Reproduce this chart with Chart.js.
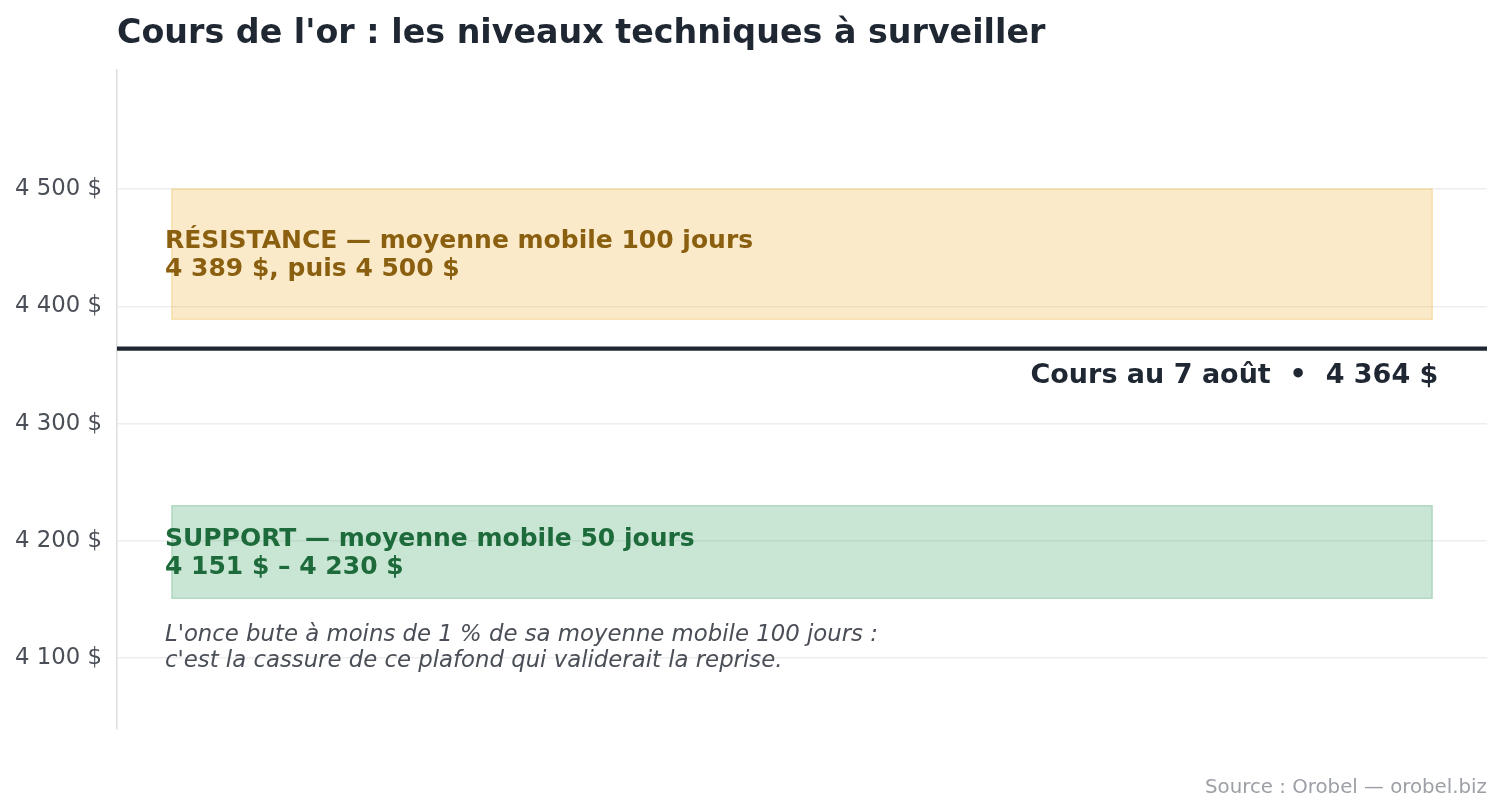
<!DOCTYPE html>
<html>
<head>
<meta charset="utf-8">
<script src="https://cdn.jsdelivr.net/npm/chart.js@4"></script>
<style>
html,body{margin:0;padding:0;background:#fff;}
#wrap{width:1501px;height:812px;position:relative;}
</style>
</head>
<body>
<div id="wrap"><canvas id="c" width="1501" height="812"></canvas></div>
<script>
const chartTitle = "Cours de l'or : les niveaux techniques à surveiller";
const sourceText = "Source : Orobel — orobel.biz";
const yTicks = [4100, 4200, 4300, 4400, 4500];
const yRange = [4039.6, 4601.5];
const zoneNames = ["RÉSISTANCE — moyenne mobile 100 jours", "SUPPORT — moyenne mobile 50 jours"];
const zoneSubs = ["4 389 $, puis 4 500 $", "4 151 $ – 4 230 $"];
const zoneLow = [4389, 4151];
const zoneHigh = [4500, 4230];
const zoneFill = ["rgba(240,180,60,0.28)", "rgba(60,160,100,0.28)"];
const zoneBorder = ["rgba(240,190,80,0.45)", "rgba(60,160,100,0.35)"];
const zoneText = ["#8a5f0f", "#1d6a3a"];
const currentPrice = 4364;
const currentLabel = "Cours au 7 août  •  4 364 $";
const noteLines = ["L'once bute à moins de 1 % de sa moyenne mobile 100 jours :", "c'est la cassure de ce plafond qui validerait la reprise."];
const noteValue = 4110;

function fmt(v){ return String(v).replace(/\B(?=(\d{3})+(?!\d))/g, " ") + " $"; }

const overlay = {
  id: 'overlay',
  beforeDatasetsDraw(chart){
    const ctx = chart.ctx, x = chart.scales.x, y = chart.scales.y;
    ctx.save();
    for (let i = 0; i < zoneLow.length; i++){
      const x0 = x.getPixelForValue(0.04), x1 = x.getPixelForValue(0.96);
      const y0 = y.getPixelForValue(zoneHigh[i]), y1 = y.getPixelForValue(zoneLow[i]);
      ctx.fillStyle = zoneFill[i];
      ctx.fillRect(x0, y0, x1 - x0, y1 - y0);
      ctx.strokeStyle = zoneBorder[i];
      ctx.lineWidth = 1.2;
      ctx.strokeRect(x0, y0, x1 - x0, y1 - y0);
    }
    ctx.restore();
  },
  afterDatasetsDraw(chart){
    const ctx = chart.ctx, x = chart.scales.x, y = chart.scales.y, ca = chart.chartArea;
    ctx.save();
    for (let i = 0; i < zoneLow.length; i++){
      const yc = (y.getPixelForValue(zoneHigh[i]) + y.getPixelForValue(zoneLow[i])) / 2 + 1.5;
      ctx.fillStyle = zoneText[i];
      ctx.font = "bold 25px 'DejaVu Sans'";
      ctx.textAlign = 'left';
      ctx.textBaseline = 'middle';
      const lx = x.getPixelForValue(0.035);
      ctx.fillText(zoneNames[i], lx, yc - 14);
      ctx.fillText(zoneSubs[i], lx, yc + 14);
    }
    const py = y.getPixelForValue(currentPrice);
    ctx.fillStyle = '#1f2733';
    ctx.font = "bold 27px 'DejaVu Sans'";
    ctx.textAlign = 'right';
    ctx.textBaseline = 'middle';
    ctx.fillText(currentLabel, x.getPixelForValue(0.9645), py + 27);
    const ny = y.getPixelForValue(noteValue) + 2;
    ctx.fillStyle = '#4a4e57';
    ctx.font = "italic 22.8px 'DejaVu Sans'";
    ctx.textAlign = 'left';
    ctx.fillText(noteLines[0], x.getPixelForValue(0.035), ny - 13);
    ctx.fillText(noteLines[1], x.getPixelForValue(0.035), ny + 13);
    ctx.fillStyle = '#1f2733';
    ctx.font = "bold 33.3px 'DejaVu Sans'";
    ctx.textAlign = 'left';
    ctx.fillText(chartTitle, ca.left, 34);
    ctx.fillStyle = '#9ca0a6';
    ctx.font = "19.8px 'DejaVu Sans'";
    ctx.textAlign = 'right';
    ctx.fillText(sourceText, ca.right, 788);
    ctx.restore();
  }
};

new Chart(document.getElementById('c'), {
  type: 'line',
  data: {
    datasets: [{
      label: 'Cours',
      data: [{x: 0, y: currentPrice}, {x: 1, y: currentPrice}],
      borderColor: '#1f2733',
      borderWidth: 4.2,
      pointRadius: 0,
      fill: false
    }]
  },
  options: {
    responsive: false,
    animation: false,
    devicePixelRatio: 1,
    layout: { padding: { top: 70, bottom: 83, right: 14, left: 0 } },
    plugins: { legend: { display: false }, tooltip: { enabled: false }, title: { display: false } },
    scales: {
      x: { type: 'linear', min: 0, max: 1, display: false },
      y: {
        type: 'linear', min: yRange[0], max: yRange[1],
        afterBuildTicks(s){ s.ticks = yTicks.map(v => ({value: v})); },
        afterFit(s){ s.width = 117; },
        grid: { color: '#eeeeee', lineWidth: 1.5, drawTicks: false },
        border: { display: true, color: '#dddddd', width: 1.5 },
        ticks: { padding: 15, color: '#4a4e57', font: { family: 'DejaVu Sans', size: 22.8 }, callback: v => fmt(v) }
      }
    }
  },
  plugins: [overlay]
});
</script>
</body>
</html>
